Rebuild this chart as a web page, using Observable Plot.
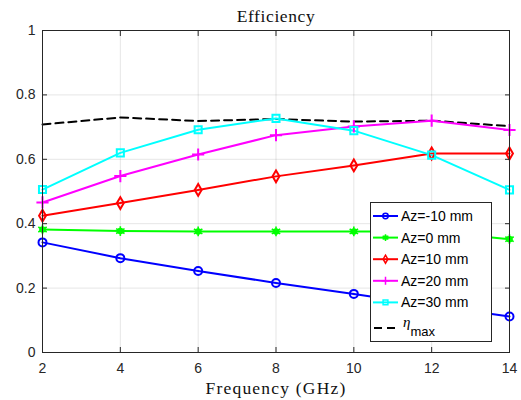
<!DOCTYPE html>
<html>
<head>
<meta charset="utf-8">
<script src="https://cdn.jsdelivr.net/npm/d3@7"></script>
<script src="https://cdn.jsdelivr.net/npm/@observablehq/plot@0.6"></script>
<style>
  html, body { margin: 0; padding: 0; background: #fff; }
  #wrap { position: relative; width: 521px; height: 400px; }
  #wrap svg.plot { font-family: "Liberation Sans", Arial, sans-serif; }
  #wrap g.ttl text { letter-spacing: 0.6px; }
  #wrap g.xlab text { letter-spacing: 1.2px; }
  #legend { position: absolute; left: 370px; top: 202px; }
</style>
</head>
<body>
<div id="wrap"></div>
<script>
// Frequency sweep (GHz)
const freq = [2, 4, 6, 8, 10, 12, 14];

// Efficiency for each axial offset Az
const azM10 = [0.342, 0.293, 0.253, 0.216, 0.182, 0.146, 0.112];
const az0   = [0.382, 0.377, 0.376, 0.376, 0.376, 0.376, 0.352];
const az10  = [0.425, 0.464, 0.505, 0.547, 0.581, 0.618, 0.618];
const az20  = [0.466, 0.548, 0.615, 0.675, 0.702, 0.720, 0.691];
const az30  = [0.506, 0.620, 0.692, 0.727, 0.689, 0.613, 0.505];
const etaMax = [0.708, 0.730, 0.719, 0.725, 0.717, 0.720, 0.703];

// Tick values
const xTicks = [2, 4, 6, 8, 10, 12, 14];
const yTicks = [0, 0.2, 0.4, 0.6, 0.8, 1];

const series = [
  {name: "Az=-10 mm", values: azM10, color: "#0000ff", symbol: "circle", r: 4, sw: 2, filled: false},
  {name: "Az=0 mm", values: az0, color: "#00ff00", symbol: "asterisk", r: 4.6, sw: 1.6, filled: true},
  {name: "Az=10 mm", values: az10, color: "#ff0000", symbol: "diamond", r: 3.6, sw: 2, filled: false},
  {name: "Az=20 mm", values: az20, color: "#ff00ff", symbol: "plus", r: 4, sw: 2, filled: false},
  {name: "Az=30 mm", values: az30, color: "#00ffff", symbol: "square2", r: 4.5, sw: 2, filled: false}
];

const rows = (vals) => freq.map((f, i) => ({f, v: vals[i]}));
const axisColor = "#262626";
const serif = "'Liberation Serif', 'Times New Roman', serif";

const marks = [
  Plot.gridX(xTicks, {stroke: "#000", strokeOpacity: 0.1}),
  Plot.gridY(yTicks, {stroke: "#000", strokeOpacity: 0.1}),
  Plot.line(rows(etaMax), {x: "f", y: "v", stroke: "#000", strokeWidth: 2, strokeDasharray: "8,5"})
];
for (const s of series) {
  marks.push(Plot.line(rows(s.values), {x: "f", y: "v", stroke: s.color, strokeWidth: 2}));
}
for (const s of series) {
  // the asterisk marker gets a solid core so it reads as a filled star
  if (s.filled) {
    marks.push(Plot.dot(rows(s.values), {x: "f", y: "v", r: 3.3, fill: s.color, stroke: "none"}));
  }
  marks.push(Plot.dot(rows(s.values), {
    x: "f", y: "v", symbol: () => s.symbol, r: s.r,
    stroke: s.color, strokeWidth: s.sw, fill: s.filled ? s.color : "none"
  }));
}
marks.push(
  Plot.frame({stroke: axisColor, strokeWidth: 1}),
  Plot.axisX(xTicks, {anchor: "bottom", tickSize: -5, tickPadding: 16, fontSize: 14, color: axisColor, label: null, tickFormat: d => `${d}`}),
  Plot.axisX(xTicks, {anchor: "top", tickSize: -5, tickPadding: 0, color: axisColor, label: null, tickFormat: () => ""}),
  Plot.axisY(yTicks, {anchor: "left", tickSize: -5, tickPadding: 12, fontSize: 14, color: axisColor, label: null, tickFormat: d => `${d}`}),
  Plot.axisY(yTicks, {anchor: "right", tickSize: -5, tickPadding: 0, color: axisColor, label: null, tickFormat: () => ""}),
  Plot.text(["Efficiency"], {frameAnchor: "top", lineAnchor: "bottom", dy: -9, text: d => d, fontSize: 17.5, fontFamily: serif, fill: "#111", className: "ttl"}),
  Plot.text(["Frequency (GHz)"], {frameAnchor: "bottom", lineAnchor: "bottom", dy: 41, text: d => d, fontSize: 17.5, fontFamily: serif, fill: "#111", className: "xlab"})
);

const chart = Plot.plot({
  width: 521,
  height: 400,
  marginLeft: 42,
  marginRight: 12,
  marginTop: 30,
  marginBottom: 48,
  className: "plot",
  style: {background: "#fff", overflow: "visible"},
  x: {domain: [2, 14], axis: null},
  y: {domain: [0, 1], axis: null},
  symbol: {type: "identity"},
  marks
});
document.getElementById("wrap").appendChild(chart);

// Legend box drawn with D3
const legendItems = [
  ...series.map(s => ({...s, dash: null})),
  {name: "eta", color: "#000", symbol: null, dash: "8,5"}
];
const lw = 122, lh = 140;
const legend = d3.select("#wrap").append("svg")
  .attr("id", "legend").attr("width", lw).attr("height", lh)
  .style("font-family", "'Liberation Sans', Arial, sans-serif");
legend.append("rect").attr("x", 0.5).attr("y", 0.5).attr("width", lw - 1).attr("height", lh - 1)
  .attr("fill", "#fff").attr("stroke", axisColor).attr("stroke-width", 1);
const symbolMap = {circle: d3.symbolCircle, asterisk: d3.symbolAsterisk, diamond: d3.symbolDiamond, plus: d3.symbolPlus, square2: d3.symbolSquare2};
legendItems.forEach((d, i) => {
  const cy = 14 + i * 21.6 + (d.symbol ? 0 : 4);
  const g = legend.append("g").attr("transform", `translate(0,${cy})`);
  g.append("line").attr("x1", d.symbol ? 3 : 4).attr("x2", 28).attr("y1", 0).attr("y2", 0)
    .attr("stroke", d.color).attr("stroke-width", 2).attr("stroke-dasharray", d.dash);
  if (d.symbol) {
    if (d.filled) g.append("circle").attr("cx", 15.5).attr("r", 2.4).attr("fill", d.color);
    g.append("path").attr("transform", "translate(15.5,0)")
      .attr("d", d3.symbol(symbolMap[d.symbol], Math.PI * (d.r * 0.68) ** 2)())
      .attr("stroke", d.color).attr("stroke-width", 1.5).attr("fill", d.filled ? d.color : "none");
    g.append("text").attr("x", 31).attr("y", 5).attr("font-size", 14).attr("fill", "#000").text(d.name);
  } else {
    const t = g.append("text").attr("x", 33).attr("y", 0).attr("fill", "#000");
    t.append("tspan").attr("font-family", serif).attr("font-style", "italic").attr("font-size", 15).attr("dy", -1).text("η");
    t.append("tspan").attr("font-size", 13).attr("dy", 9).text("max");
  }
});
</script>
</body>
</html>
